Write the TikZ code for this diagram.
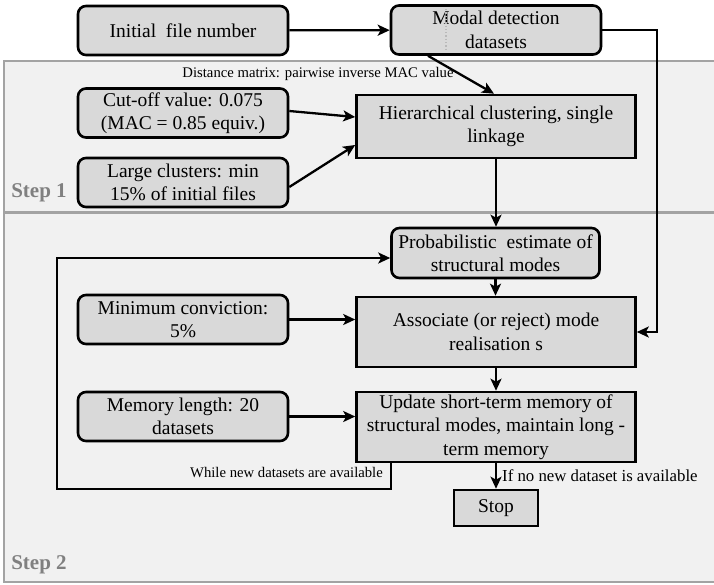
\documentclass[tikz,border=0pt]{standalone}
\usepackage{fontspec}
\setmainfont{Liberation Serif}
\usetikzlibrary{arrows.meta}
\definecolor{boxgray}{HTML}{D9D9D9}
\definecolor{panelgray}{HTML}{F1F1F1}
\definecolor{panelline}{HTML}{A3A3A3}
\definecolor{steplabel}{HTML}{808080}
\tikzset{
  flowbox/.style={draw, line width=2.6pt, fill=boxgray, align=center,
    font=\fontsize{19.5}{23.5}\selectfont, inner sep=2pt},
  roundbox/.style={flowbox, rounded corners=8pt, minimum width=210pt, minimum height=49pt},
  squarebox/.style={flowbox, minimum width=279pt, minimum height=70pt},
  flowarrow/.style={-{Stealth[length=12pt,width=11pt,inset=3pt]}, line width=2.3pt},
  smalllabel/.style={font=\fontsize{14.7}{16}\selectfont, inner sep=1pt},
  steptext/.style={text=steplabel, font=\fontsize{21}{24}\selectfont\bfseries}
}
\begin{document}
\begin{tikzpicture}[x=1pt,y=-1pt]
\useasboundingbox (0,0) rectangle (714,584);
% the two step panels
\draw[panelline, fill=panelgray, line width=1.2pt] (4,61) rectangle (714.5,212);
\draw[panelline, fill=panelgray, line width=1.2pt] (4,213) rectangle (714.5,582);
\node[steptext] (step1) at (39,193) {Step 1};
\node[steptext] (step2) at (39,565) {Step 2};
% boxes
\node[roundbox] (initial) at (183,30.5) {Initial\ \ file number};
\node[roundbox] (modal) at (496,30) {Modal detection\\datasets};
\draw[gray!55, dotted, line width=1.3pt] (446,9) -- (446,51);
\node[roundbox] (cutoff) at (183,113) {Cut-off value: 0.075\\(MAC = 0.85 equiv.)};
\node[roundbox] (large) at (183,182.5) {Large clusters: min\\15\% of initial files};
\node[squarebox, minimum height=63pt] (hier) at (496,126.5) {Hierarchical clustering, single\\linkage};
\node[roundbox, minimum width=208pt, minimum height=50pt] (prob) at (495.5,253) {Probabilistic\ \ estimate of\\structural modes};
\node[roundbox] (minconv) at (183,319.5) {Minimum conviction:\\5\%};
\node[squarebox] (assoc) at (496,332) {Associate (or reject) mode\\realisation s};
\node[roundbox] (memory) at (183,416.5) {Memory length: 20\\datasets};
\node[squarebox] (update) at (496,427) {Update short-term memory of\\structural modes, maintain long -\\term memory};
\node[flowbox, minimum width=84pt, minimum height=36pt] (stop) at (496,508) {Stop};
% connectors
\draw[flowarrow] (initial) -- (modal);
\draw[flowarrow] (modal.east) -| ([xshift=20.5pt]assoc.east) -- (assoc.east);
\draw[flowarrow] ([xshift=-68pt]modal.south) -- ([xshift=-2pt]hier.north);
\node[smalllabel] (distlabel) at (318,74) {Distance matrix: pairwise inverse MAC value};
\draw[flowarrow] ([yshift=2pt]cutoff.east) -- ([yshift=9.5pt]hier.west);
\draw[flowarrow] ([yshift=-4.5pt]large.east) -- ([yshift=-18.5pt]hier.west);
\draw[flowarrow] (hier.south) -- (hier.south |- prob.north);
\draw[flowarrow] (prob.south) -- (prob.south |- assoc.north);
\draw[flowarrow] (minconv.east) -- (minconv.east -| assoc.west);
\draw[flowarrow] (memory.east) -- (memory.east -| update.west);
\draw[flowarrow] (assoc.south) -- (assoc.south |- update.north);
\draw[flowarrow] (update.south -| stop.north) -- (stop.north)
  node[smalllabel, font=\fontsize{16.8}{18}\selectfont, midway, right, xshift=4pt] (nolabel) {If no new dataset is available};
\coordinate (loopcorner) at (57,489);
\draw[flowarrow] ([xshift=-105pt]update.south) |- (loopcorner) |- ([yshift=-5pt]prob.west);
\node[smalllabel, anchor=east] (whilelabel) at (384,473) {While new datasets are available};
\end{tikzpicture}
\end{document}
